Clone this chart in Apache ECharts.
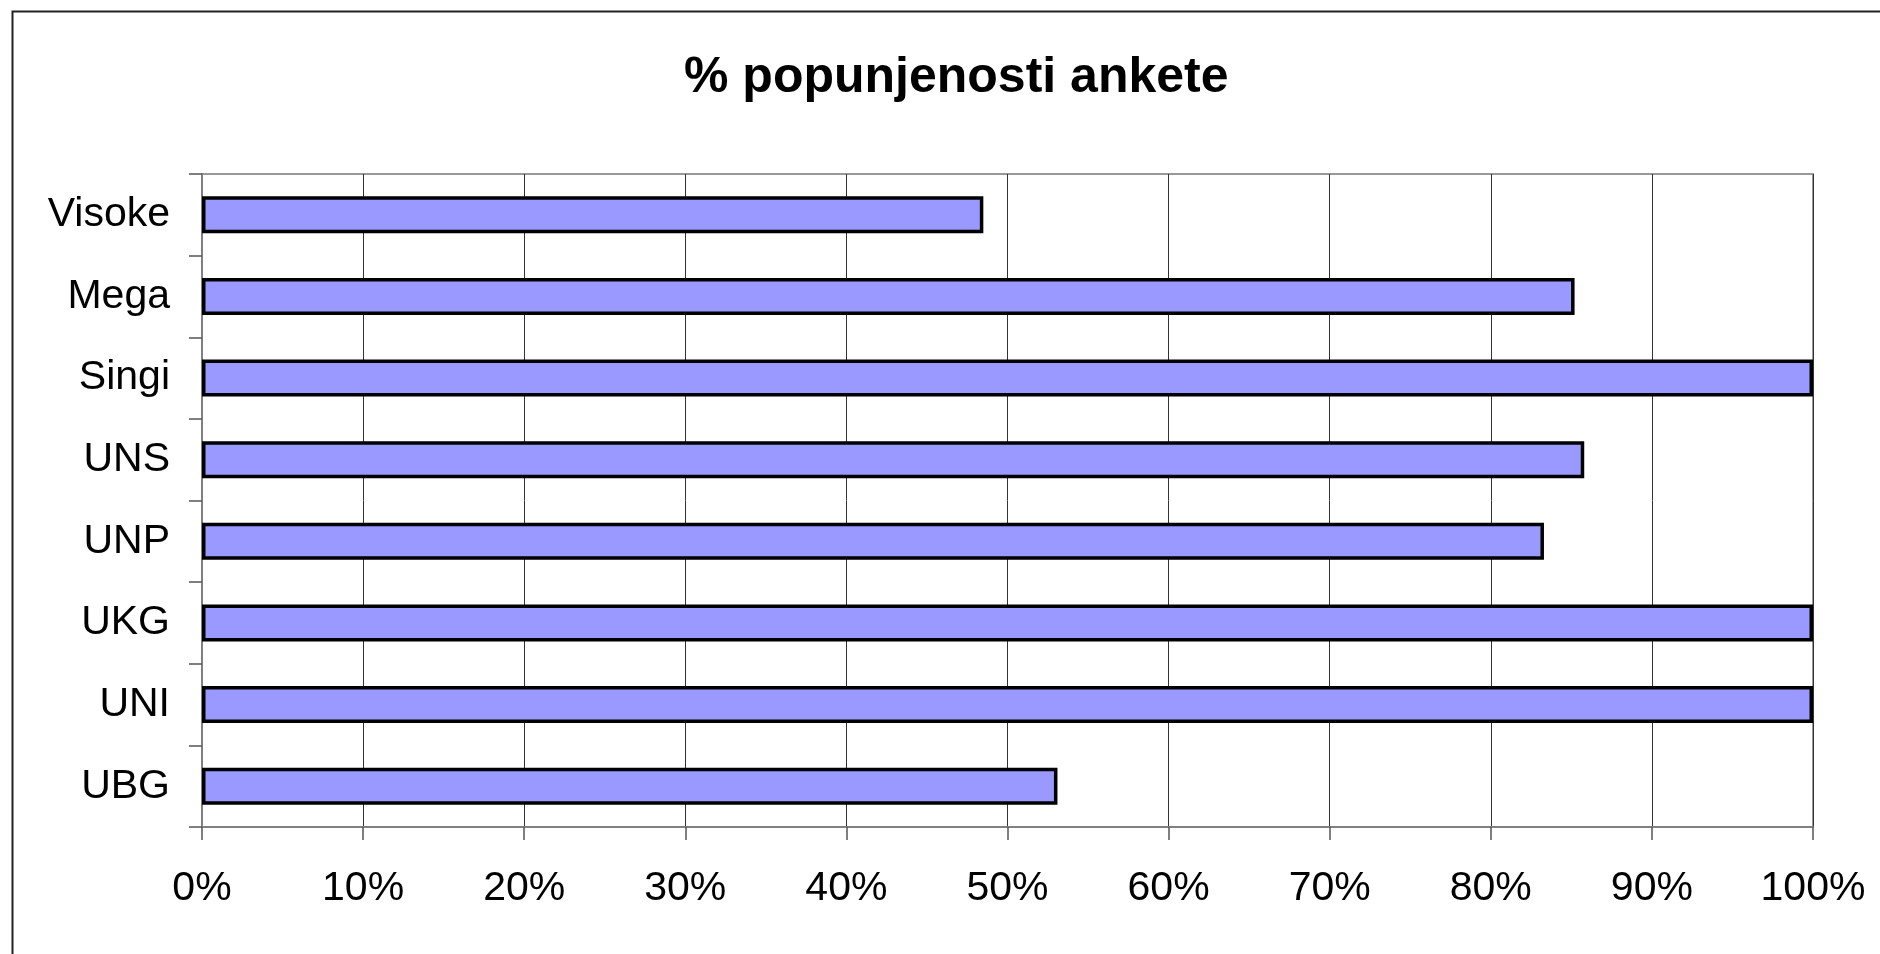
<!DOCTYPE html>
<html>
<head>
<meta charset="utf-8">
<title>% popunjenosti ankete</title>
<script src="https://cdn.jsdelivr.net/npm/echarts@6/dist/echarts.min.js"></script>
<style>
  html, body { margin: 0; padding: 0; background: #fff; }
  #bar { width: 1880px; height: 954px; }
</style>
</head>
<body>
<div id="bar"></div>
<script>
// categories from top to bottom
let categories = ["Visoke", "Mega", "Singi", "UNS", "UNP", "UKG", "UNI", "UBG"];
// percent filled
let values = [48.5, 85.2, 100, 85.8, 83.3, 100, 100, 53.1];
let xTicks = [0, 10, 20, 30, 40, 50, 60, 70, 80, 90, 100];

let myChart = echarts.init(document.getElementById("bar"));

let font = "'Liberation Sans', Arial, sans-serif";

let option = {
  animation: false,
  backgroundColor: "#fff",
  title: {
    text: "% popunjenosti ankete",
    left: 684,
    top: 53,
    padding: 0,
    textStyle: {
      fontFamily: font,
      fontSize: 50,
      fontWeight: "bold",
      color: "#000",
    },
  },
  graphic: [
    {
      // outer chart frame (right/bottom edges fall outside the picture)
      type: "rect",
      left: 10,
      top: 9,
      shape: { width: 1890, height: 960 },
      style: { fill: null, stroke: "#222", lineWidth: 2 },
      silent: true,
    },
  ],
  grid: {
    left: 202,
    right: 67,
    top: 174,
    bottom: 127,
    show: true,
    borderColor: "#999",
    borderWidth: 2,
  },
  xAxis: {
    type: "value",
    min: 0,
    max: 100,
    interval: 10,
    axisLine: { show: true, lineStyle: { color: "#808080", width: 2 } },
    axisTick: { show: true, inside: false, length: 13, lineStyle: { color: "#555", width: 1.5 } },
    splitLine: { show: true, lineStyle: { color: "#333", width: 1 } },
    axisLabel: {
      margin: 41,
      fontFamily: font,
      fontSize: 41,
      color: "#000",
      formatter: function (v) {
        return xTicks.indexOf(v) >= 0 ? v + "%" : "";
      },
    },
  },
  yAxis: {
    type: "category",
    inverse: true,
    data: categories,
    axisLine: { show: true, lineStyle: { color: "#808080", width: 2 } },
    axisTick: { show: true, inside: false, length: 13, lineStyle: { color: "#555", width: 1.5 } },
    axisLabel: {
      margin: 32,
      padding: [6, 0, 0, 0],
      fontFamily: font,
      fontSize: 41,
      color: "#000",
    },
  },
  series: [
    {
      name: "% popunjenosti",
      type: "bar",
      data: values,
      barWidth: 37,
      itemStyle: {
        color: "#9999ff",
        borderColor: "#000",
        borderWidth: 3.5,
      },
    },
  ],
};

myChart.setOption(option);
</script>
</body>
</html>
